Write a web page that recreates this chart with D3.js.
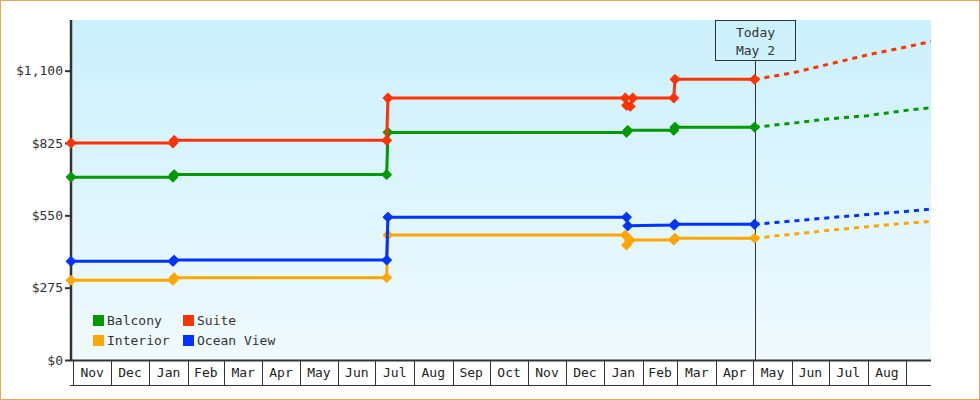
<!DOCTYPE html>
<html>
<head>
<meta charset="utf-8">
<script src="https://cdn.jsdelivr.net/npm/d3@7"></script>
<style>
  html, body { margin: 0; padding: 0; background: #fff; }
  svg { display: block; font-family: "DejaVu Sans Mono", monospace; }
</style>
</head>
<body>
<svg id="chart"></svg>
<script>
(function () {
    'use strict';

    // price history, one entry per change (dates are UTC days)
    const balconyDates = ['2023-10-30', '2024-01-20', '2024-01-21', '2024-07-10', '2024-07-11', '2025-01-19', '2025-01-20', '2025-02-26', '2025-02-27', '2025-05-02'];
    const balconyValues = [695, 695, 705, 705, 865, 865, 873, 873, 885, 885];

    const interiorDates = ['2023-10-30', '2024-01-20', '2024-01-21', '2024-07-10', '2024-07-11', '2025-01-18', '2025-01-19', '2025-01-22', '2025-02-26', '2025-02-27', '2025-05-02'];
    const interiorValues = [303, 303, 313, 313, 475, 475, 437, 456, 456, 463, 463];

    const suiteDates = ['2023-10-30', '2024-01-20', '2024-01-21', '2024-07-10', '2024-07-11', '2025-01-18', '2025-01-19', '2025-01-22', '2025-01-24', '2025-02-26', '2025-02-27', '2025-05-02'];
    const suiteValues = [825, 825, 835, 835, 996, 996, 968, 964, 996, 996, 1067, 1067];

    const oceanDates = ['2023-10-30', '2024-01-20', '2024-01-21', '2024-07-10', '2024-07-11', '2025-01-19', '2025-01-20', '2025-02-26', '2025-02-27', '2025-05-02'];
    const oceanValues = [375, 375, 380, 380, 543, 543, 510, 513, 516, 516];

    // forecast after today
    const forecastDates = ['2025-05-02', '2025-06-01', '2025-07-01', '2025-08-01', '2025-09-01', '2025-09-21'];
    const balconyForecast = [885, 900, 917, 929, 949, 959];
    const interiorForecast = [463, 478, 493, 507, 520, 527];
    const suiteForecast = [1067, 1091, 1125, 1160, 1190, 1211];
    const oceanForecast = [516, 528, 541, 553, 565, 574];

    const yTicks = [0, 275, 550, 825, 1100];
    const today = '2025-05-02';
    const todayLabel = ['Today', 'May 2'];

    const width = 980;
    const height = 400;
    const margin = ({ top: 20, right: 49, bottom: 40, left: 71 });

    const parse = d3.utcParse('%Y-%m-%d');
    const zip = (ds, vs) => ds.map((d, i) => ({ date: parse(d), value: vs[i] }));

    const series = [
        { name: 'Balcony', color: '#009900', data: zip(balconyDates, balconyValues), forecast: zip(forecastDates, balconyForecast) },
        { name: 'Interior', color: '#ffa500', data: zip(interiorDates, interiorValues), forecast: zip(forecastDates, interiorForecast) },
        { name: 'Suite', color: '#ff3300', data: zip(suiteDates, suiteValues), forecast: zip(forecastDates, suiteForecast) },
        { name: 'Ocean View', color: '#0033ff', data: zip(oceanDates, oceanValues), forecast: zip(forecastDates, oceanForecast) }
    ];

    const x = d3.scaleUtc()
        .domain([parse('2023-10-30'), parse('2025-09-21')])
        .range([margin.left, width - margin.right]);

    const y = d3.scaleLinear()
        .domain([0, 1292.6])
        .range([height - margin.bottom, margin.top]);

    const svg = d3.select('#chart')
        .attr('width', width)
        .attr('height', height)
        .attr('viewBox', [0, 0, width, height]);

    // outer frame
    svg.append('rect')
        .attr('x', 0.5).attr('y', 0.5)
        .attr('width', width - 1).attr('height', height - 1)
        .attr('fill', '#fff')
        .attr('stroke', '#eba55e');

    const grad = svg.append('defs').append('linearGradient')
        .attr('id', 'bg').attr('x1', 0).attr('y1', 0).attr('x2', 0).attr('y2', 1);
    grad.append('stop').attr('offset', 0).attr('stop-color', '#cbf0fc');
    grad.append('stop').attr('offset', 1).attr('stop-color', '#f0faff');

    svg.append('rect')
        .attr('x', margin.left).attr('y', margin.top)
        .attr('width', width - margin.right - margin.left)
        .attr('height', height - margin.bottom - margin.top)
        .attr('fill', 'url(#bg)');

    // month cells under the plot
    const axisY = height - margin.bottom;
    const months = d3.utcMonths(parse('2023-11-01'), parse('2025-09-02'));
    const xAxis = svg.append('g').classed('x-axis', true);
    xAxis.selectAll('line.sep').data(months).enter().append('line')
        .classed('sep', true)
        .attr('x1', d => Math.round(x(d)) + 0.5).attr('x2', d => Math.round(x(d)) + 0.5)
        .attr('y1', axisY).attr('y2', axisY + 25)
        .attr('stroke', '#333');
    xAxis.append('line')
        .attr('x1', margin.left - 1).attr('x2', width - margin.right)
        .attr('y1', axisY + 25.5).attr('y2', axisY + 25.5)
        .attr('stroke', '#333');
    xAxis.append('line')
        .attr('x1', margin.left).attr('x2', width - margin.right)
        .attr('y1', axisY + 0.5).attr('y2', axisY + 0.5)
        .attr('stroke', '#333').attr('stroke-width', 2);
    xAxis.selectAll('text').data(months.slice(0, -1)).enter().append('text')
        .attr('x', (d, i) => (x(d) + x(months[i + 1])) / 2)
        .attr('y', axisY + 17)
        .attr('text-anchor', 'middle')
        .attr('font-size', 13)
        .attr('fill', '#222')
        .text(d3.utcFormat('%b'));

    // y axis
    const yAxis = svg.append('g')
        .attr('transform', `translate(${margin.left},0)`)
        .call(d3.axisLeft(y).tickValues(yTicks).tickSize(6).tickPadding(2).tickFormat(d3.format('$,')));
    yAxis.select('.domain').remove();
    yAxis.append('line')
        .attr('x1', 0).attr('x2', 0)
        .attr('y1', margin.top).attr('y2', axisY + 1)
        .attr('stroke', '#333').attr('stroke-width', 2.5);
    yAxis.selectAll('.tick line').attr('stroke', '#333').attr('stroke-width', 2);
    yAxis.selectAll('.tick text')
        .attr('font-family', '"DejaVu Sans Mono", monospace')
        .attr('font-size', 13)
        .attr('fill', '#333');

    // today marker
    const tx = Math.round(x(parse(today))) + 0.5;
    svg.append('line')
        .attr('x1', tx).attr('x2', tx)
        .attr('y1', 60).attr('y2', axisY)
        .attr('stroke', '#333');
    svg.append('rect')
        .attr('x', tx - 40).attr('y', margin.top + 0.5)
        .attr('width', 80).attr('height', 40)
        .attr('fill', 'none').attr('stroke', '#333');
    svg.selectAll('text.today').data(todayLabel).enter().append('text')
        .classed('today', true)
        .attr('x', tx)
        .attr('y', (d, i) => 37 + i * 18)
        .attr('text-anchor', 'middle')
        .attr('font-size', 13)
        .attr('fill', '#333')
        .text(d => d);

    const line = d3.line().x(d => x(d.date)).y(d => y(d.value));
    const diamond = d3.symbol(d3.symbolSquare, 46);

    const lines = svg.append('g').classed('series', true);
    series.forEach(s => {
        const g = lines.append('g');
        g.append('path')
            .attr('d', line(s.forecast))
            .attr('fill', 'none')
            .attr('stroke', s.color)
            .attr('stroke-width', 3)
            .attr('stroke-dasharray', '5,5');
        g.append('path')
            .attr('d', line(s.data))
            .attr('fill', 'none')
            .attr('stroke', s.color)
            .attr('stroke-width', 3);
        g.selectAll('path.pt').data(s.data).enter().append('path')
            .classed('pt', true)
            .attr('d', diamond)
            .attr('transform', d => `translate(${x(d.date)},${y(d.value)}) rotate(45)`)
            .attr('fill', s.color)
            .attr('stroke', s.color)
            .attr('stroke-linejoin', 'round');
    });

    // legend, two columns
    const legendOrder = ['Balcony', 'Suite', 'Interior', 'Ocean View'];
    const legend = svg.append('g').attr('transform', 'translate(93,315)');
    legendOrder.forEach((name, i) => {
        const s = series.find(d => d.name === name);
        const gx = (i % 2) * 90;
        const gy = Math.floor(i / 2) * 20;
        legend.append('rect')
            .attr('x', gx).attr('y', gy)
            .attr('width', 11).attr('height', 11)
            .attr('fill', s.color);
        legend.append('text')
            .attr('x', gx + 14).attr('y', gy + 10)
            .attr('font-size', 13)
            .attr('fill', '#333')
            .text(name);
    });
})();
</script>
</body>
</html>
